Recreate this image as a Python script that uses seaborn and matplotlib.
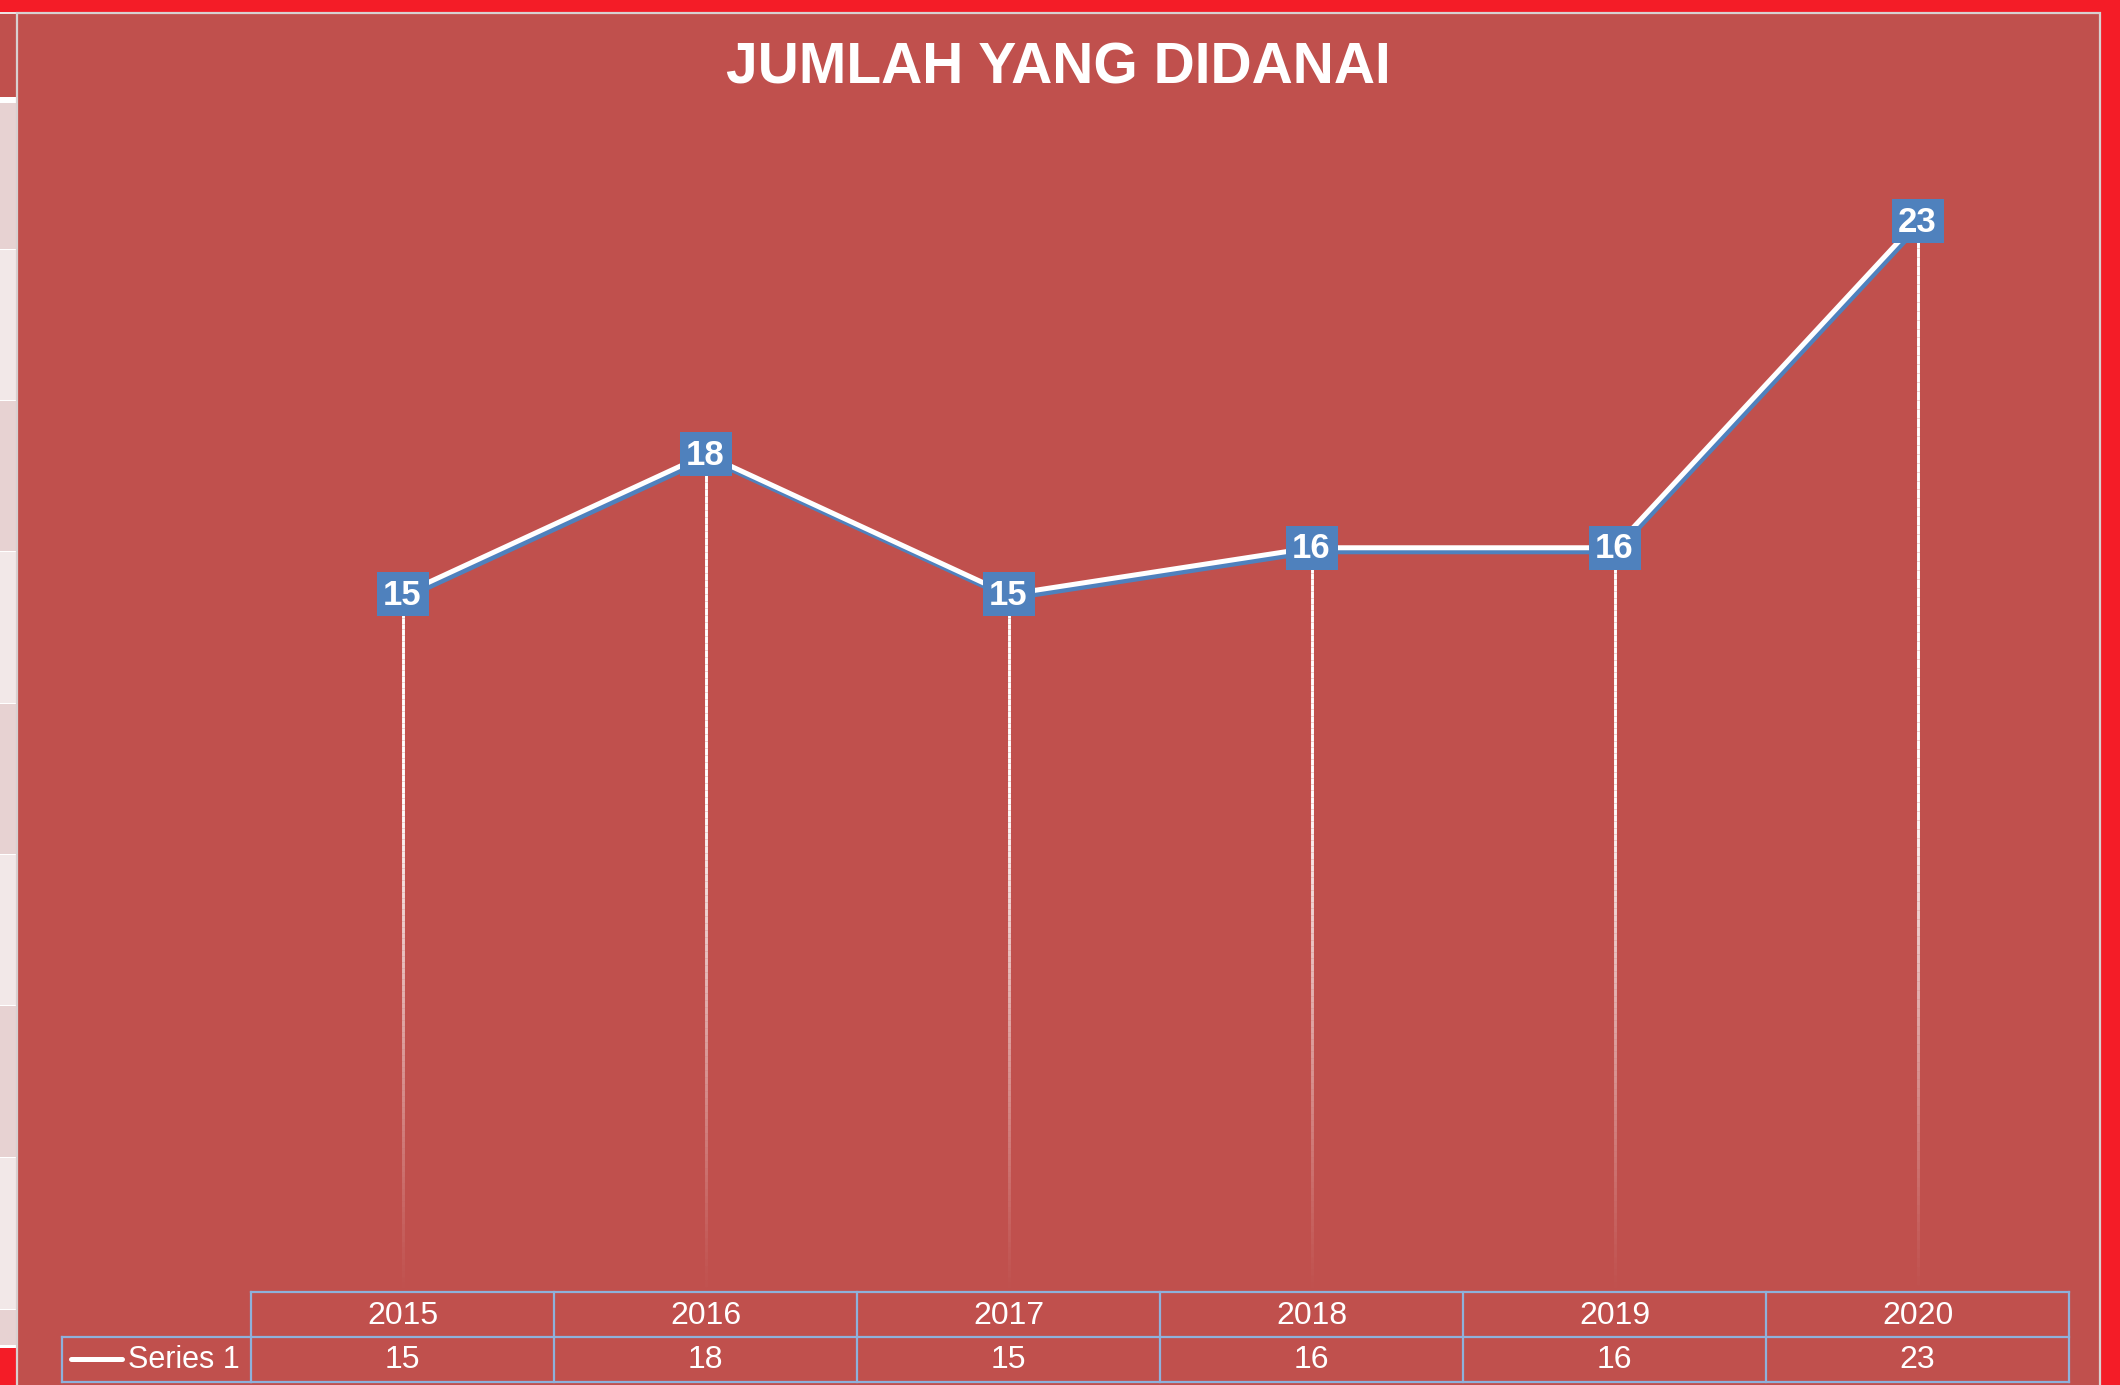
import numpy as np
import pandas as pd
import matplotlib
matplotlib.use("Agg")
import matplotlib.pyplot as plt
import matplotlib.transforms as mtransforms
from matplotlib.patches import Rectangle
from matplotlib.collections import LineCollection
import seaborn as sns

# ---- data ----
years = ["2015", "2016", "2017", "2018", "2019", "2020"]
jumlah = [15, 18, 15, 16, 16, 23]
series_name = "Series 1"
title_text = "JUMLAH YANG DIDANAI"

# ---- style ----
sns.set_theme(style="white")
plt.rcParams["font.family"] = ["Liberation Sans", "DejaVu Sans"]

W, H, DPI = 2120, 1385, 100
FRAME_RED = "#F41C27"
CHART_BG = "#C0504D"
LABEL_BLUE = "#4F81BD"
GRID_BLUE = "#8EB1DB"
WHITE = "#FFFFFF"

fig = plt.figure(figsize=(W / DPI, H / DPI), dpi=DPI, facecolor=FRAME_RED)

# pixel-space canvas covering the whole figure
canvas = fig.add_axes([0, 0, 1, 1], zorder=0)
canvas.set_xlim(0, W)
canvas.set_ylim(H, 0)
canvas.axis("off")

# spreadsheet strip on the left edge
canvas.add_patch(Rectangle((0, 12), 17, 3, color="#EDE3E3", lw=0))
canvas.add_patch(Rectangle((0, 14), 17, 83, color=CHART_BG, lw=0))
canvas.add_patch(Rectangle((0, 97), 17, 6, color=WHITE, lw=0))
edges = [103, 250, 401, 552, 704, 855, 1006, 1158, 1310, 1346]
for k in range(len(edges) - 1):
    col = "#E7D2D2" if k % 2 == 0 else "#F2E8E8"
    canvas.add_patch(Rectangle((0, edges[k]), 17, edges[k + 1] - edges[k], color=col, lw=0))
    canvas.add_patch(Rectangle((0, edges[k + 1] - 1.5), 17, 3, color=WHITE, lw=0))

# chart area
canvas.add_patch(Rectangle((17, 13), 2083, H, facecolor=CHART_BG,
                           edgecolor="#D8D0D0", lw=1.6))

# title
canvas.text(1058, 62, title_text, ha="center", va="center_baseline", color=WHITE,
            fontsize=41, fontweight="bold")

# ---- plot area ----
left_px, right_px, top_px, bottom_px = 251, 2069, 128, 1294
ax = fig.add_axes([left_px / W, 1 - bottom_px / H,
                   (right_px - left_px) / W, (bottom_px - top_px) / H], zorder=2)
ax.set_facecolor("none")
for s in ax.spines.values():
    s.set_visible(False)
ax.set_xlim(-0.5, len(years) - 0.5)
ax.set_ylim(0, 25)
ax.set_xticks([])
ax.set_yticks([])

df = pd.DataFrame({"pos": np.arange(len(years)), "tahun": years, "jumlah": jumlah})

# drop lines fading toward the baseline
n_seg = 120
for x, v in zip(df["pos"], df["jumlah"]):
    ys = np.linspace(0, v, n_seg + 1)
    segs = [[(x, ys[k]), (x, ys[k + 1])] for k in range(n_seg)]
    mids = (ys[:-1] + ys[1:]) / 2
    alpha = np.clip(mids / 10.5, 0, 1) ** 1.2
    cols = [(1, 1, 1, a) for a in alpha]
    ax.add_collection(LineCollection(segs, colors=cols, linewidths=2.1, zorder=1))

# shadow line
sns.lineplot(data=df, x="pos", y="jumlah", ax=ax, color=LABEL_BLUE, lw=3.6,
             legend=False, zorder=3)
shadow = ax.lines[-1]
shadow.set_transform(mtransforms.offset_copy(ax.transData, fig=fig, x=2, y=-4, units="dots"))
shadow.set_solid_capstyle("butt")
shadow.set_clip_on(False)

# main line
sns.lineplot(data=df, x="pos", y="jumlah", ax=ax, color=WHITE, lw=3.6,
             legend=False, zorder=4)
ax.lines[-1].set_clip_on(False)
ax.set_xlabel("")
ax.set_ylabel("")
ax.set_xlim(-0.5, len(years) - 0.5)
ax.set_ylim(0, 25)

# data labels on blue boxes
bw, bh = 52, 44
for x, v in zip(df["pos"], df["jumlah"]):
    tr = mtransforms.ScaledTranslation(x, v, ax.transData)
    ax.add_patch(Rectangle((-bw / 2, -bh / 2), bw, bh, facecolor=LABEL_BLUE,
                           edgecolor="none", transform=tr, zorder=5, clip_on=False))
    ax.annotate(str(v), (x, v), xytext=(0, -1), textcoords="offset pixels",
                ha="center", va="center", color=WHITE, fontsize=25,
                fontweight="bold", zorder=6, annotation_clip=False)

# ---- data table under the plot ----
row_top, row_mid, row_bot = 1292, 1337, 1382
legend_left = 62
blend = mtransforms.blended_transform_factory(ax.transData, canvas.transData)
n = len(years)
lkw = dict(color=GRID_BLUE, lw=1.6, zorder=3, solid_capstyle="projecting")
canvas.plot([-0.5, n - 0.5], [row_top, row_top], transform=blend, **lkw)
canvas.plot([-0.5, n - 0.5], [row_bot, row_bot], transform=blend, **lkw)
canvas.plot([legend_left, right_px], [row_mid, row_mid], **lkw)
canvas.plot([legend_left, left_px], [row_bot, row_bot], **lkw)
canvas.plot([legend_left, legend_left], [row_mid, row_bot], **lkw)
for k in range(n + 1):
    canvas.plot([k - 0.5, k - 0.5], [row_top, row_bot], transform=blend, **lkw)
for k, (yr, v) in enumerate(zip(years, jumlah)):
    canvas.text(k, (row_top + row_mid) / 2 + 1, yr, transform=blend, ha="center",
                va="center", color=WHITE, fontsize=23)
    canvas.text(k, (row_mid + row_bot) / 2 + 1, str(v), transform=blend, ha="center",
                va="center", color=WHITE, fontsize=23)

# legend key inside the table
canvas.plot([71, 122], [1359, 1359], color=WHITE, lw=3.6, solid_capstyle="round", zorder=4)
canvas.text(128, 1360, series_name, ha="left", va="center", color=WHITE, fontsize=22)

fig.savefig("out.png", dpi=DPI, facecolor=FRAME_RED)
